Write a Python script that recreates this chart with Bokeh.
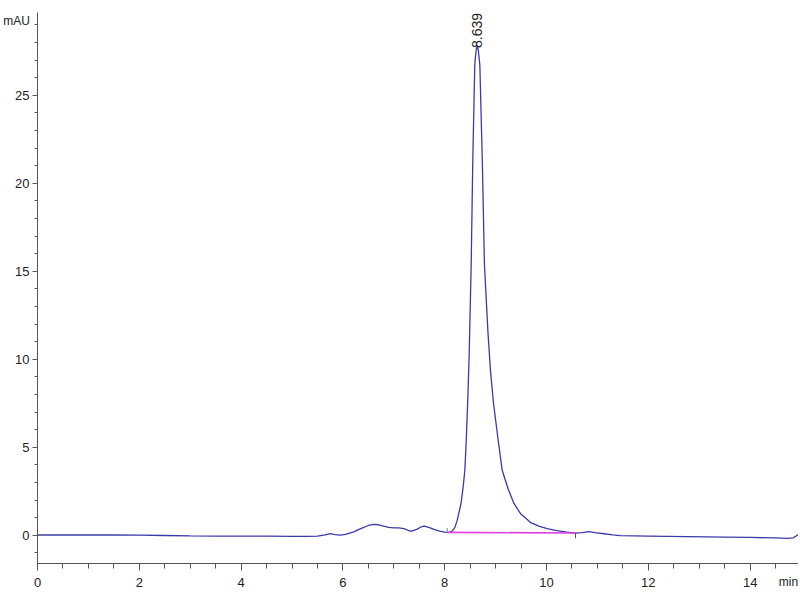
from math import pi
from bokeh.plotting import figure
from bokeh.models import SingleIntervalTicker, Range1d
from bokeh.core.properties import value
from bokeh.embed import file_html
from bokeh.resources import INLINE

# Chromatogram trace (retention time in min, absorbance in mAU)
time_min = [0.00, 0.50, 1.00, 1.50, 2.00, 2.50, 3.00, 3.50, 4.00, 4.50, 5.00, 5.30,
            5.50, 5.65, 5.75, 5.85, 5.95, 6.05, 6.20, 6.35, 6.50, 6.60, 6.70, 6.80,
            6.90, 7.00, 7.10, 7.20, 7.30, 7.35, 7.45, 7.55, 7.60, 7.70, 7.80, 7.90,
            8.00, 8.05, 8.10, 8.15, 8.20, 8.245, 8.28, 8.32, 8.36, 8.395, 8.42, 8.45,
            8.48, 8.52, 8.55, 8.59, 8.60, 8.62, 8.639, 8.66, 8.68, 8.69, 8.74, 8.78,
            8.85, 8.90, 8.96, 9.05, 9.13, 9.25, 9.36, 9.49, 9.60, 9.69, 9.85, 10.01,
            10.20, 10.40, 10.57, 10.70, 10.83, 10.95, 11.13, 11.30, 11.45, 12.00, 12.76,
            13.50, 14.00, 14.50, 14.73, 14.85, 14.95]
absorb_mau = [0.02, 0.02, 0.02, 0.02, 0.01, -0.01, -0.03, -0.04, -0.04, -0.05, -0.06, -0.06,
              -0.04, 0.03, 0.10, 0.04, 0.01, 0.05, 0.18, 0.38, 0.56, 0.62, 0.60, 0.52,
              0.45, 0.42, 0.42, 0.38, 0.26, 0.24, 0.34, 0.50, 0.52, 0.44, 0.32, 0.24,
              0.18, 0.17, 0.18, 0.25, 0.45, 0.85, 1.30, 1.81, 2.70, 3.68, 5.20, 7.46,
              10.20, 15.40, 21.06, 26.70, 27.10, 27.60, 27.80, 27.55, 27.00, 26.70, 21.06, 15.40,
              11.50, 9.30, 7.46, 5.40, 3.68, 2.60, 1.81, 1.23, 0.95, 0.72, 0.52, 0.38,
              0.27, 0.18, 0.13, 0.15, 0.21, 0.15, 0.09, 0.03, -0.02, -0.04, -0.07,
              -0.10, -0.12, -0.15, -0.17, -0.14, 0.05]

# Integration baseline of the peak
baseline_time = [8.05, 10.57]
baseline_mau = [0.17, 0.13]

# Peak annotation
peak_time = [8.639]
peak_mau = [27.80]
peak_text = ["8.639"]

x_start, x_end = 0, 14.95
y_start, y_end = -1.6, 29.7

FONT = "Liberation Sans"
AXIS_COLOR = "#555555"
TRACE_COLOR = "#3a3aaa"
NBSP = "\u00a0"

p = figure(width=798, height=592, output_backend="svg", toolbar_location=None,
           x_range=Range1d(x_start, x_end), y_range=Range1d(y_start, y_end),
           min_border_left=37, min_border_right=0, min_border_top=12, min_border_bottom=29)
p.outline_line_color = None
p.xgrid.visible = False
p.ygrid.visible = False
p.background_fill_color = "white"
p.border_fill_color = "white"

# Trace
p.line(time_min, absorb_mau, line_color=TRACE_COLOR, line_width=1.3)

# Baseline
p.line(baseline_time, baseline_mau, line_color="#e040e0", line_width=1.6)
p.segment(x0=[baseline_time[0]], y0=[baseline_mau[0]], x1=[baseline_time[0]],
          y1=[baseline_mau[0] + 0.25], line_color="#888888", line_width=1)
p.segment(x0=[baseline_time[1]], y0=[baseline_mau[1]], x1=[baseline_time[1]],
          y1=[baseline_mau[1] - 0.3], line_color="#555555", line_width=1)

# Peak label, rotated
p.text(x=peak_time, y=peak_mau, text=peak_text, angle=pi / 2,
       text_align="left", text_baseline="middle", y_offset=2,
       text_font=value(FONT), text_font_size="14px", text_color="#222222")

# Axes
for ax in (p.xaxis[0], p.yaxis[0]):
    ax.axis_line_color = AXIS_COLOR
    ax.major_tick_line_color = AXIS_COLOR
    ax.minor_tick_line_color = AXIS_COLOR
    ax.major_tick_in = 0
    ax.minor_tick_in = 0
    ax.major_label_text_font = FONT
    ax.major_label_text_font_size = "13px"
    ax.major_label_text_color = "#222222"
    ax.axis_label_text_font = FONT
    ax.axis_label_text_font_size = "12px"
    ax.axis_label_text_font_style = "normal"
    ax.axis_label_text_color = "#222222"
    ax.axis_label_align = "end"

p.xaxis.ticker = SingleIntervalTicker(interval=2, num_minor_ticks=4)
p.xaxis.major_tick_out = 7
p.xaxis.minor_tick_out = 5
p.xaxis.major_label_standoff = 7
p.xaxis.axis_label = "min" + NBSP * 6
p.xaxis.axis_label_standoff = -15

p.yaxis.ticker = SingleIntervalTicker(interval=5, num_minor_ticks=5)
p.yaxis.major_tick_out = 5
p.yaxis.minor_tick_out = 3
p.yaxis.major_label_standoff = 3
p.yaxis.axis_label = NBSP + "\nmAU"
p.yaxis.axis_label_orientation = "horizontal"
p.yaxis.axis_label_standoff = -18

open("out.html", "w").write(file_html(p, INLINE))
